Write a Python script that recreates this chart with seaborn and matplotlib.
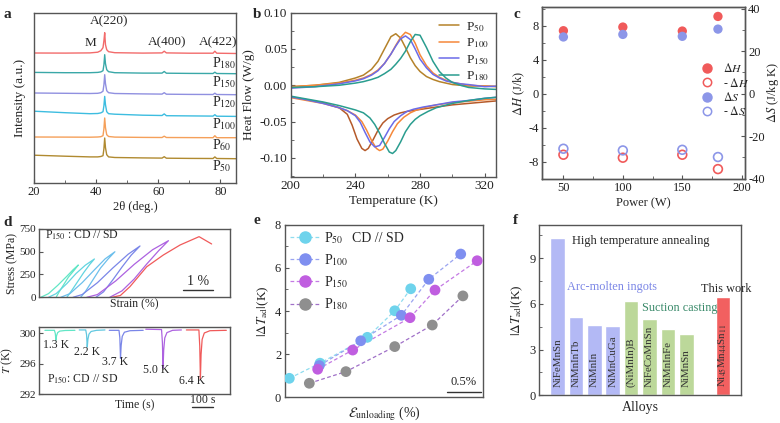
import numpy as np
import pandas as pd
import matplotlib
matplotlib.use('Agg')
import matplotlib.pyplot as plt
import seaborn as sns
from matplotlib.lines import Line2D
from matplotlib.ticker import MultipleLocator, FormatStrFormatter

# ================= DATA =================
# (a) XRD patterns (2theta in deg, intensity in a.u., stacked)
xrd_two_theta = [20, 30, 38, 40.5, 41.5, 42.2, 42.5, 42.75, 43.0, 43.4, 44, 46, 55, 61.2, 61.9, 62.6, 70, 77.6, 78.2, 78.8, 85]
xrd_p180 = [129.7, 129.6, 129.8, 130.5, 132, 135, 142, 150, 138, 133, 131, 130, 129.6, 129.8, 131.5, 129.8, 129.5, 129.5, 131.5, 129.5, 129.2]
xrd_p150 = [110.3, 110, 110, 110.3, 110.8, 112, 118, 128, 119, 113, 111, 110, 109.6, 109.6, 111.2, 109.5, 109.3, 109.2, 110.5, 109.2, 109]
xrd_p120 = [89.7, 89.4, 89.2, 89.4, 90, 91.5, 98, 108, 99, 92, 90, 89.2, 88.8, 88.6, 90, 88.5, 88.3, 88.2, 89.5, 88.2, 88]
xrd_p100 = [71.5, 70, 69, 69.2, 69.8, 71, 77, 86.3, 78, 71, 69, 68.5, 67.5, 67.2, 68.8, 67, 66.8, 66.6, 68, 66.5, 66.3]
xrd_p60 = [45.7, 45.6, 45.5, 45.7, 46, 47, 54, 64.7, 55, 48, 46.2, 45.6, 45.3, 45.2, 46.5, 45.2, 45.1, 45, 47, 45, 45]
xrd_p50 = [27.5, 26.5, 25.8, 25.8, 26.2, 27, 34, 44.7, 35, 28, 25.8, 25.2, 24.8, 24.6, 26, 24.5, 24.3, 24.2, 25.8, 24.2, 24]
xrd_names = ['P180', 'P150', 'P120', 'P100', 'P60', 'P50']
xrd_label_y = [120, 101, 81, 59, 38, 16.5]

# (b) DSC heat flow (W/g)
dsc_t_heat = [200, 215, 230, 240, 245, 250, 254, 258, 262, 265, 268, 271, 274, 277, 280, 284, 288, 292, 296, 300, 305, 310, 320, 330]
dsc_heat_p50 = [-0.002, 0.0, 0.004, 0.010, 0.014, 0.022, 0.033, 0.050, 0.067, 0.071, 0.065, 0.052, 0.038, 0.027, 0.019, 0.012, 0.008, 0.005, 0.003, 0.001, 0.0, -0.001, -0.001, -0.002]
dsc_heat_p100 = [-0.002, 0.0, 0.003, 0.007, 0.010, 0.015, 0.021, 0.030, 0.043, 0.055, 0.066, 0.073, 0.070, 0.058, 0.042, 0.027, 0.017, 0.011, 0.007, 0.004, 0.002, 0.0, -0.001, -0.002]
dsc_heat_p150 = [-0.004, -0.002, 0.002, 0.006, 0.009, 0.014, 0.020, 0.030, 0.043, 0.054, 0.064, 0.068, 0.063, 0.050, 0.036, 0.024, 0.015, 0.010, 0.006, 0.004, 0.002, 0.001, -0.002, -0.001]
dsc_heat_p180 = [-0.003, -0.002, 0.0, 0.003, 0.005, 0.008, 0.011, 0.016, 0.022, 0.029, 0.037, 0.047, 0.060, 0.070, 0.069, 0.052, 0.033, 0.019, 0.010, 0.004, 0.0, -0.003, -0.005, -0.006]
dsc_t_cool_p50 = [200, 210, 220, 230, 235, 238, 241, 244, 246, 248, 251, 254, 257, 260, 264, 268, 272, 278, 284, 290, 300, 310, 320, 330]
dsc_cool_p50 = [-0.016, -0.020, -0.024, -0.031, -0.040, -0.055, -0.074, -0.087, -0.090, -0.087, -0.075, -0.062, -0.052, -0.046, -0.041, -0.038, -0.036, -0.034, -0.032, -0.030, -0.027, -0.025, -0.023, -0.021]
dsc_t_cool_p100 = [200, 210, 220, 230, 235, 240, 244, 247, 250, 253, 255, 257, 260, 263, 266, 270, 274, 278, 284, 290, 300, 310, 320, 330]
dsc_cool_p100 = [-0.017, -0.021, -0.025, -0.031, -0.035, -0.041, -0.050, -0.062, -0.076, -0.087, -0.090, -0.088, -0.077, -0.064, -0.053, -0.044, -0.038, -0.034, -0.030, -0.027, -0.024, -0.022, -0.020, -0.019]
dsc_t_cool_p150 = [200, 210, 220, 230, 235, 240, 243, 246, 249, 252, 255, 258, 261, 264, 268, 272, 276, 282, 290, 300, 310, 320, 330]
dsc_cool_p150 = [-0.016, -0.020, -0.025, -0.031, -0.035, -0.042, -0.051, -0.065, -0.078, -0.085, -0.083, -0.072, -0.060, -0.050, -0.042, -0.036, -0.033, -0.030, -0.027, -0.023, -0.021, -0.018, -0.016]
dsc_t_cool_p180 = [200, 210, 220, 230, 240, 245, 249, 252, 255, 258, 261, 263, 265, 268, 271, 274, 277, 280, 285, 290, 300, 310, 320, 330]
dsc_cool_p180 = [-0.015, -0.019, -0.023, -0.028, -0.034, -0.038, -0.045, -0.054, -0.066, -0.080, -0.092, -0.094, -0.090, -0.078, -0.064, -0.054, -0.047, -0.042, -0.036, -0.031, -0.025, -0.021, -0.018, -0.016]

# (c) enthalpy / entropy vs laser power
power_w = [50, 100, 150, 180]
dH_heat = [7.41, 7.84, 7.37, 9.09]
dH_cool = [-7.18, -7.53, -7.18, -8.87]
dS_heat = [26.7, 27.9, 27.0, 30.4]
dS_cool = [-25.9, -26.7, -26.4, -29.8]

# (d, top) stress-strain cycles of P150 (strain %, stress MPa)
loop_strain = [
    [0.05, 0.3, 0.6, 0.9, 1.1, 1.275, 1.15, 0.95, 0.8, 0.65, 0.55],
    [0.3, 0.55, 0.9, 1.2, 1.5, 1.80, 1.65, 1.45, 1.25, 1.05, 0.9],
    [0.7, 1.0, 1.4, 1.8, 2.15, 2.47, 2.25, 2.0, 1.75, 1.5, 1.35],
    [1.1, 1.4, 1.9, 2.4, 2.9, 3.29, 3.0, 2.7, 2.4, 2.1, 1.85],
    [1.55, 1.9, 2.5, 3.1, 3.7, 4.22, 3.9, 3.5, 3.1, 2.7, 2.3],
    [2.37, 2.65, 2.96, 3.51, 4.05, 4.6, 5.22, 5.63],
]
loop_stress = [
    [0, 40, 130, 230, 300, 353, 300, 220, 140, 60, 0],
    [0, 40, 150, 260, 350, 419, 360, 270, 170, 70, 0],
    [0, 40, 160, 300, 420, 498, 420, 320, 190, 60, 0],
    [0, 30, 160, 320, 470, 561, 460, 330, 190, 60, 0],
    [0, 30, 180, 360, 520, 619, 510, 360, 200, 70, 0],
    [0, 20, 116, 334, 462, 572, 663, 583],
]

# (d, bottom) temperature change during unloading (time s, T K)
dip_time = [
    [26, 70, 74, 77, 80, 85, 95, 120, 165],
    [185, 215, 219, 222, 225, 230, 240, 265, 304],
    [324, 369, 373, 376, 379, 384, 394, 420, 481],
    [493, 566, 570, 573, 576, 581, 591, 617, 658],
    [681, 739, 743, 746, 749, 754, 764, 790, 866],
]
dip_temp = [
    [300.40, 300.40, 300.0, 299.1, 299.7, 300.1, 300.30, 300.38, 300.40],
    [300.45, 300.45, 299.8, 298.2, 299.2, 299.9, 300.25, 300.40, 300.45],
    [300.40, 300.40, 299.4, 296.7, 298.4, 299.6, 300.15, 300.35, 300.40],
    [300.55, 300.50, 298.8, 295.4, 297.8, 299.4, 300.10, 300.40, 300.45],
    [300.45, 300.45, 298.3, 294.0, 297.2, 299.2, 300.05, 300.35, 300.40],
]
dip_labels = ['1.3 K', '2.2 K', '3.7 K', '5.0 K', '6.4 K']
dip_label_t = [76, 219, 352, 543, 708]
dip_label_T = [298.5, 297.6, 296.2, 295.2, 293.7]

# (e) |dT_ad| vs unloading strain
e_strain_p50 = [0.068, 0.519, 1.215, 1.618, 1.853]
e_dT_p50 = [0.88, 1.58, 2.78, 4.01, 5.03]
e_strain_p100 = [0.509, 1.118, 1.715, 2.118, 2.588]
e_dT_p100 = [1.47, 2.62, 3.80, 5.47, 6.64]
e_strain_p150 = [0.485, 1.0, 1.843, 2.21, 2.83]
e_dT_p150 = [1.30, 2.19, 3.69, 4.97, 6.33]
e_strain_p180 = [0.362, 0.9, 1.618, 2.17, 2.62]
e_dT_p180 = [0.65, 1.19, 2.35, 3.35, 4.70]

# (f) comparison of alloys
alloys = ['NiFeMnSn', 'NiMnInTb', 'NiMnIn', 'NiMnCuGa', '(NiMnIn)B', 'NiFeCoMnSn', 'NiMnInFe', 'NiMnSn',
          r'Ni$_{45}$Mn$_{44}$Sn$_{11}$']
alloy_dT = [10.3, 5.12, 4.62, 4.55, 6.22, 5.01, 4.33, 4.03, 6.44]
alloy_group = ['arc', 'arc', 'arc', 'arc', 'suction', 'suction', 'suction', 'suction', 'this']

# ================= STYLE =================
sns.set_style('ticks')
plt.rcParams['font.family'] = ['Liberation Serif', 'DejaVu Serif']
plt.rcParams['mathtext.fontset'] = 'stix'
plt.rcParams['axes.unicode_minus'] = False
plt.rcParams['xtick.direction'] = 'in'
plt.rcParams['ytick.direction'] = 'in'
plt.rcParams['axes.edgecolor'] = '#555555'
plt.rcParams['axes.linewidth'] = 1.0
plt.rcParams['xtick.color'] = '#555555'
plt.rcParams['ytick.color'] = '#555555'
plt.rcParams['xtick.labelcolor'] = '#222222'
plt.rcParams['ytick.labelcolor'] = '#222222'
plt.rcParams['xtick.major.size'] = 3
plt.rcParams['ytick.major.size'] = 3
plt.rcParams['xtick.minor.size'] = 2
plt.rcParams['ytick.minor.size'] = 2
plt.rcParams['xtick.major.pad'] = 2.5
plt.rcParams['ytick.major.pad'] = 2.5

LAB = 9

W, H = 780, 423
fig = plt.figure(figsize=(W / 100, H / 100), dpi=100)


def add_ax(left, top, right, bottom):
    return fig.add_axes([left / W, 1 - bottom / H, (right - left) / W, (bottom - top) / H])


def letter(x, y, s):
    fig.text(x / W, 1 - y / H, s, fontsize=11, fontweight='bold', va='center', ha='left')


# ---------- (a) ----------
axa = add_ax(34, 12.7, 236, 182.7)
xrd_cols = ['#f26b6b', '#3aa8a8', '#9090e0', '#3dbde0', '#f5a05a', '#b08a30']
xrd_series = [xrd_p180, xrd_p150, xrd_p120, xrd_p100, xrd_p60, xrd_p50]
df_a = pd.concat([pd.DataFrame({'x': xrd_two_theta, 'y': s, 'sample': n})
                  for s, n in zip(xrd_series, xrd_names)])
sns.lineplot(data=df_a, x='x', y='y', hue='sample', palette=dict(zip(xrd_names, xrd_cols)),
             estimator=None, sort=False, lw=1.0, legend=False, ax=axa)
for n, ly in zip(xrd_names, xrd_label_y):
    axa.text(77.3, ly, 'P$_{' + n[1:] + '}$', fontsize=10, ha='left', va='center')
axa.text(44.3, 161, 'A(220)', fontsize=9.5, ha='center', va='center')
axa.text(38.2, 140, 'M', fontsize=9.5, ha='center', va='center')
axa.text(62.7, 140, 'A(400)', fontsize=9.5, ha='center', va='center')
axa.text(79.2, 140, 'A(422)', fontsize=9.5, ha='center', va='center')
axa.set_xlim(20, 85)
axa.set_ylim(0, 170)
axa.set_xticks([20, 40, 60, 80])
axa.xaxis.set_minor_locator(MultipleLocator(10))
axa.set_yticks([])
axa.tick_params(labelsize=9)
axa.set_xlabel('2θ (deg.)', fontsize=LAB, labelpad=2)
axa.set_ylabel('Intensity (a.u.)', fontsize=LAB + 0.5, labelpad=6)
letter(3, 15, 'a')

# ---------- (b) ----------
axb = add_ax(290.7, 12.7, 496, 176.7)
b_names = ['P$_{50}$', 'P$_{100}$', 'P$_{150}$', 'P$_{180}$']
b_cols = ['#b5822a', '#f5883a', '#6b6be8', '#2a9d8f']
heat = [dsc_heat_p50, dsc_heat_p100, dsc_heat_p150, dsc_heat_p180]
cool_t = [dsc_t_cool_p50, dsc_t_cool_p100, dsc_t_cool_p150, dsc_t_cool_p180]
cool = [dsc_cool_p50, dsc_cool_p100, dsc_cool_p150, dsc_cool_p180]
cool_cols = ['#b55a2a', '#f5883a', '#6b6be8', '#2a9d8f']
for i in range(4):
    sns.lineplot(x=dsc_t_heat, y=heat[i], color=b_cols[i], lw=1.1, ax=axb, label=b_names[i])
    sns.lineplot(x=cool_t[i], y=cool[i], color=cool_cols[i], lw=1.1, ax=axb)
axb.set_xlim(200, 327)
axb.set_ylim(-0.126, 0.10)
axb.set_xticks([200, 240, 280, 320])
axb.xaxis.set_minor_locator(MultipleLocator(20))
axb.set_yticks([-0.10, -0.05, 0.0, 0.05, 0.10])
axb.yaxis.set_minor_locator(MultipleLocator(0.025))
axb.yaxis.set_major_formatter(FormatStrFormatter('%.2f'))
axb.tick_params(labelsize=9.5)
axb.set_xlabel('Temperature (K)', fontsize=LAB + 0.5, labelpad=2)
axb.set_ylabel('Heat Flow (W/g)', fontsize=LAB + 0.5, labelpad=3)
axb.legend(loc='upper right', bbox_to_anchor=(1.0, 1.0), frameon=False, fontsize=9.5,
           handlelength=1.5, handletextpad=0.5, labelspacing=0.2, borderaxespad=0.15)
letter(253, 15, 'b')

# ---------- (c) ----------
axc = add_ax(542, 7, 745.3, 178.7)
axc2 = axc.twinx()
red_c, blue_c = '#f05a5a', '#8c96e8'
sns.scatterplot(x=power_w, y=dH_heat, color=red_c, s=45, edgecolor='none', ax=axc, zorder=3)
sns.scatterplot(x=power_w, y=dH_cool, facecolor='none', edgecolor=red_c, linewidth=1.2, s=40, ax=axc, zorder=3)
sns.scatterplot(x=power_w, y=dS_heat, color=blue_c, s=45, edgecolor='none', ax=axc2, zorder=3)
sns.scatterplot(x=power_w, y=dS_cool, facecolor='none', edgecolor=blue_c, linewidth=1.2, s=40, ax=axc2, zorder=3)
axc.set_xlim(32, 203)
axc.set_ylim(-10, 10.2)
axc2.set_ylim(-40, 40.8)
axc.set_xticks([50, 100, 150, 200])
axc.xaxis.set_minor_locator(MultipleLocator(25))
axc.set_yticks([-8, -4, 0, 4, 8])
axc.yaxis.set_minor_locator(MultipleLocator(2))
axc2.set_yticks([-40, -20, 0, 20, 40])
axc2.yaxis.set_minor_locator(MultipleLocator(10))
axc.tick_params(labelsize=9)
axc2.tick_params(labelsize=9, direction='in', pad=2)
axc.set_xlabel('Power (W)', fontsize=LAB, labelpad=2)
axc.set_ylabel(r'$\Delta H$ (J/k)', fontsize=LAB, labelpad=1)
axc2.set_ylabel(r'$\Delta S$ (J/kg K)', fontsize=LAB, labelpad=0)
c_handles = [
    Line2D([], [], ls='none', marker='o', ms=6.5, mfc=red_c, mec=red_c),
    Line2D([], [], ls='none', marker='o', ms=6, mfc='none', mec=red_c, mew=1.1),
    Line2D([], [], ls='none', marker='o', ms=6.5, mfc=blue_c, mec=blue_c),
    Line2D([], [], ls='none', marker='o', ms=6, mfc='none', mec=blue_c, mew=1.1),
]
c_labels = [r'$\Delta H$', r'- $\Delta H$', r'$\Delta S$', r'- $\Delta S$']
axc2.legend(c_handles, c_labels, loc='center left', bbox_to_anchor=(0.74, 0.515), frameon=False,
            fontsize=8.5, handletextpad=0.9, labelspacing=0.12, handlelength=1.0,
            borderpad=0.2)
letter(513, 15, 'c')

# ---------- (d top) ----------
axd1 = add_ax(39.3, 228.7, 230, 297.3)
loop_cols = ['#62e6c6', '#62d4e0', '#6cbfec', '#7a86e8', '#ad62e0', '#f05a5a']
for xs, ys, c in zip(loop_strain, loop_stress, loop_cols):
    sns.lineplot(x=xs, y=ys, sort=False, estimator=None, color=c, lw=0.9, ax=axd1)
axd1.set_xlim(0, 6.23)
axd1.set_ylim(0, 750)
axd1.set_yticks([0, 250, 500, 750])
axd1.set_xticks([])
axd1.tick_params(labelsize=8)
axd1.set_xlabel('Strain (%)', fontsize=8.5, labelpad=1)
axd1.set_ylabel('Stress (MPa)', fontsize=8.5, labelpad=1)
axd1.text(0.19, 681, r'P$_{150}$ : CD // SD', fontsize=8.5, ha='left', va='center')
axd1.plot([4.69, 5.69], [80, 80], color='#333333', lw=1.0)
axd1.text(5.19, 175, '1 %', fontsize=10, ha='center', va='center')
letter(3, 222, 'd')

# ---------- (d bottom) ----------
axd2 = add_ax(39.3, 327.3, 230, 394)
dip_cols = ['#62e6c6', '#62c8e0', '#7a86e8', '#ad62e0', '#f05a5a']
for xs, ys, c in zip(dip_time, dip_temp, dip_cols):
    sns.lineplot(x=xs, y=ys, sort=False, estimator=None, color=c, lw=0.9, ax=axd2)
for s, tx, ty in zip(dip_labels, dip_label_t, dip_label_T):
    axd2.text(tx, ty, s, fontsize=8.5, ha='center', va='center')
axd2.text(34, 293.9, r'P$_{150}$: CD // SD', fontsize=8.5, ha='left', va='center')
axd2.set_xlim(0, 883)
axd2.set_ylim(292, 300.8)
axd2.set_yticks([292, 296, 300])
axd2.set_xticks([])
axd2.tick_params(labelsize=8)
axd2.set_xlabel('Time (s)', fontsize=8.5, labelpad=4)
axd2.set_ylabel(r'$T$ (K)', fontsize=8.5, labelpad=3)
axd2.plot([705, 805], [290.3, 290.3], color='#333333', lw=1.0, clip_on=False)
axd2.text(755, 291.2, '100 s', fontsize=8.5, ha='center', va='center', clip_on=False)

# ---------- (e) ----------
axe = add_ax(284.7, 224.7, 483.3, 397.3)
e_names = ['P$_{50}$', 'P$_{100}$', 'P$_{150}$', 'P$_{180}$']
e_mk = ['#6ed3ec', '#7f8ff0', '#c05ee0', '#8f8f8f']
e_ln = ['#8fdcef', '#9aa4f0', '#c47ae4', '#a070c8']
e_x = [e_strain_p50, e_strain_p100, e_strain_p150, e_strain_p180]
e_y = [e_dT_p50, e_dT_p100, e_dT_p150, e_dT_p180]
for xs, ys, mc, lc in zip(e_x, e_y, e_mk, e_ln):
    sns.lineplot(x=xs, y=ys, color=lc, lw=0.9, ls=(0, (3, 2)), ax=axe, zorder=2)
    sns.scatterplot(x=xs, y=ys, color=mc, s=60, edgecolor='none', ax=axe, zorder=3)
e_handles = [Line2D([], [], color=lc, lw=0.9, ls=(0, (3, 2)), marker='o', ms=8, mfc=mc, mec=mc)
             for mc, lc in zip(e_mk, e_ln)]
axe.legend(e_handles, e_names, loc='upper left', frameon=False, fontsize=10,
           handlelength=2.1, handletextpad=0.3, labelspacing=0.45, borderaxespad=0.1,
           borderpad=0.3)
axe.text(0.99, 7.35, 'CD // SD', fontsize=10, ha='left', va='center')
axe.set_xlim(0, 2.92)
axe.set_ylim(0, 8)
axe.set_yticks([0, 2, 4, 6, 8])
axe.yaxis.set_minor_locator(MultipleLocator(1))
axe.set_xticks([])
axe.tick_params(labelsize=9)
axe.set_xlabel(r'$\mathcal{E}_{\mathrm{unloading}}$ (%)', fontsize=10, labelpad=5)
axe.set_ylabel(r'$|\Delta T_{\mathrm{ad}}|$(K)', fontsize=LAB + 0.5, labelpad=3)
axe.plot([2.38, 2.88], [0.26, 0.26], color='#333333', lw=1.0)
axe.text(2.63, 0.72, '0.5%', fontsize=9, ha='center', va='center')
letter(253, 220, 'e')

# ---------- (f) ----------
axf = add_ax(539.3, 224.7, 741.3, 395.3)
group_cols = {'arc': '#b3b9f5', 'suction': '#bcd89a', 'this': '#f26060'}
df_f = pd.DataFrame({'alloy': alloys, 'dT': alloy_dT, 'group': alloy_group})
f_order = alloys[:8] + [' '] + alloys[8:]
sns.barplot(data=df_f, x='alloy', y='dT', hue='group', palette=group_cols, order=f_order,
            dodge=False, width=0.8, legend=False, ax=axf, saturation=1)
for i, name in enumerate(f_order):
    if name.strip():
        axf.text(i, 0.55, name, rotation=90, fontsize=7.8, ha='center', va='bottom', color='#333333')
axf.text(0.76, 10.1, 'High temperature annealing', fontsize=8.8, ha='left', va='center')
axf.text(0.52, 7.1, 'Arc-molten ingots', fontsize=8.8, ha='left', va='center', color='#7b86e6')
axf.text(4.57, 5.7, 'Suction casting', fontsize=8.8, ha='left', va='center', color='#3a8a6a')
axf.text(7.79, 6.96, 'This work', fontsize=8.8, ha='left', va='center')
axf.set_xlim(-1, 10)
axf.set_ylim(0, 11.2)
axf.set_yticks([0, 3, 6, 9])
axf.yaxis.set_minor_locator(MultipleLocator(1.5))
axf.set_xticks([])
axf.tick_params(labelsize=9)
axf.set_xlabel('Alloys', fontsize=10, labelpad=4)
axf.set_ylabel(r'$|\Delta T_{\mathrm{ad}}|$(K)', fontsize=LAB + 0.5, labelpad=3)
letter(513, 220, 'f')

fig.savefig('out.png', dpi=100)
